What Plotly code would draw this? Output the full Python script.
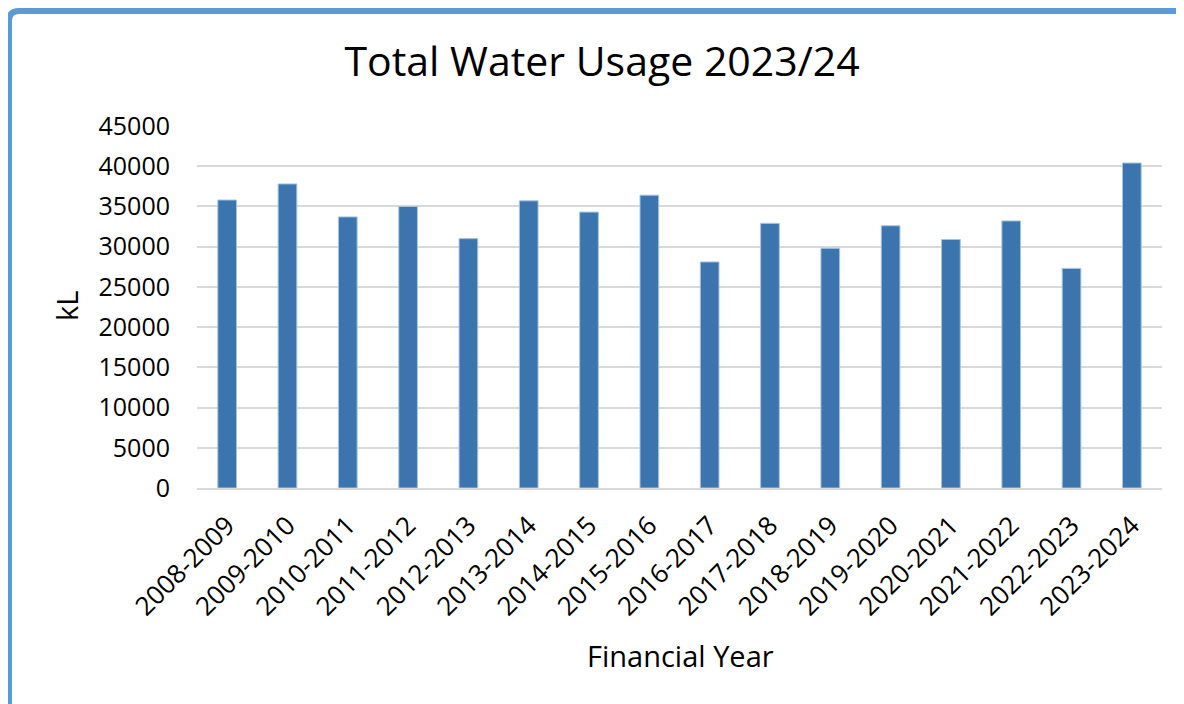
import plotly.graph_objects as go

years = ["2008-2009", "2009-2010", "2010-2011", "2011-2012", "2012-2013", "2013-2014",
         "2014-2015", "2015-2016", "2016-2017", "2017-2018", "2018-2019", "2019-2020",
         "2020-2021", "2021-2022", "2022-2023", "2023-2024"]
usage_kl = [35800, 37800, 33700, 35000, 31000, 35700, 34300, 36400,
            28100, 32900, 29800, 32600, 30900, 33200, 27300, 40400]
y_ticks = [0, 5000, 10000, 15000, 20000, 25000, 30000, 35000, 40000, 45000]

OFF = 8  # default page body margin
W, H = 1184 - OFF, 704 - OFF
# target pixel positions (in the 1184x704 viewport)
PL, PR, PT, PB = 197, 1162, 126, 488
L, T = PL - OFF, PT - OFF
R = W - (PR - OFF)
B = H - (PB - OFF)
pw, ph = W - L - R, H - T - B

def px(x):
    return (x - OFF - L) / pw

def py(y):
    return (PB - y) / ph

fig = go.Figure(go.Bar(
    x=years, y=usage_kl,
    marker=dict(color="#3C75AE", line=dict(color="#A9C4E0", width=1)),
    width=0.31,
))

font = "Open Sans, Noto Sans, sans-serif"

r = 10
path = (f"M {px(9)},{py(720)} L {px(9)},{py(11 + r)} "
        f"Q {px(9)},{py(11)} {px(9 + r)},{py(11)} L {px(1200)},{py(11)}")

fig.update_layout(
    width=W, height=H,
    margin=dict(l=L, r=R, t=T, b=B, autoexpand=False),
    paper_bgcolor="white", plot_bgcolor="white",
    showlegend=False,
    title=dict(text="Total Water Usage 2023/24", x=px(602), xanchor="center",
               xref="paper", y=1 - (62 - OFF) / H, yanchor="middle",
               font=dict(family=font, size=41, color="#000000")),
    xaxis=dict(
        tickangle=-45, tickfont=dict(family=font, size=26, color="#000000"),
        showgrid=False, showline=True, linecolor="#D9D9D9", linewidth=1.5,
        ticks="", range=[-0.5, 15.5], ticklabelstandoff=10,
    ),
    yaxis=dict(
        range=[0, 45000], tickvals=y_ticks, ticktext=[str(v) for v in y_ticks],
        tickfont=dict(family=font, size=25, color="#000000"),
        showgrid=True, gridcolor="#D9D9D9", gridwidth=1.5,
        zeroline=False, ticks="", ticklabelstandoff=26,
    ),
    annotations=[
        dict(text="Financial Year", x=px(680), y=py(655), xref="paper", yref="paper",
             xanchor="center", yanchor="middle", showarrow=False,
             font=dict(family=font, size=29, color="#000000")),
        dict(text="kL", x=px(66), y=py(306), xref="paper", yref="paper",
             xanchor="center", yanchor="middle", showarrow=False, textangle=-90,
             font=dict(family=font, size=29, color="#000000")),
    ],
    shapes=[dict(type="path", path=path, xref="paper", yref="paper",
                 line=dict(color="#5B9BD5", width=6), layer="above")],
)

fig.write_html("out.html")
